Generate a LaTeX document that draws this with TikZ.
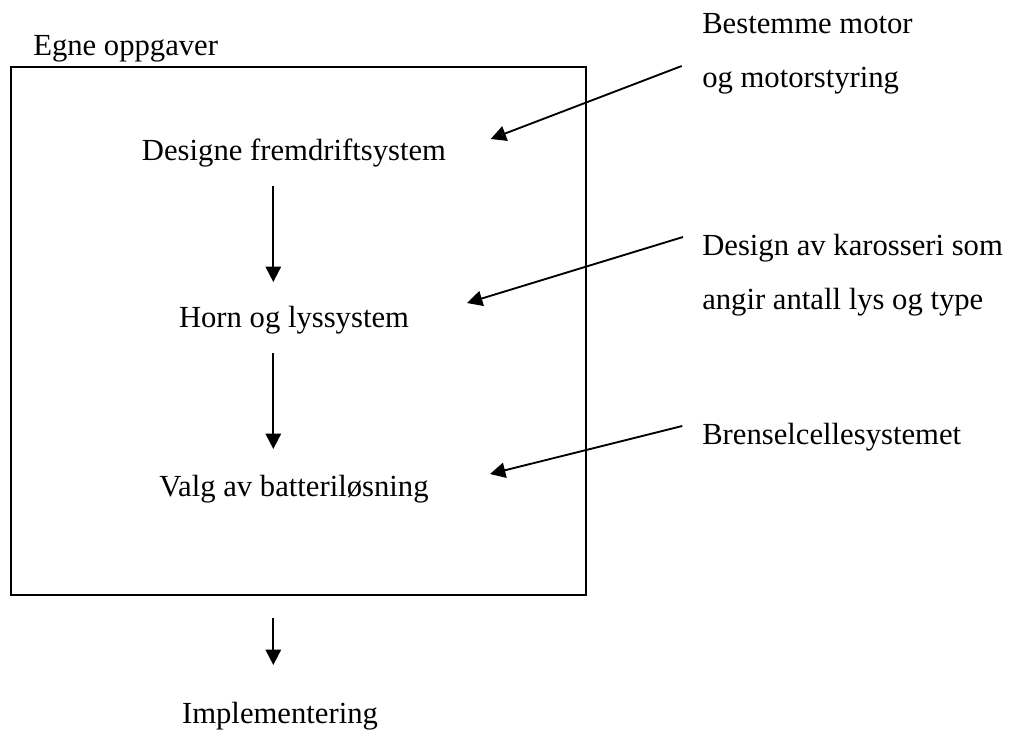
\documentclass[tikz,border=0pt]{standalone}
\usepackage{fontspec}
\setmainfont{Liberation Serif}
\usetikzlibrary{arrows.meta}
\begin{document}
\begin{tikzpicture}[x=0.75pt,y=-0.75pt,
  txt/.style={inner sep=0pt, font=\fontsize{23}{27}\selectfont},
  lbl/.style={txt, anchor=base west},
  clbl/.style={txt, anchor=base},
  frame/.style={line width=1.5pt},
  link/.style={line width=1.4pt, -{Triangle[length=11.5pt,width=11.5pt]}}]
\useasboundingbox (0,0) rectangle (1018,736);

% task box
\draw[frame] (10.7,67.3) rectangle (585.7,595);
\node[lbl] (egne) at (33,55) {Egne oppgaver};

% own tasks, top to bottom
\node[clbl] (fremdrift) at (294,160) {Designe fremdriftsystem};
\node[clbl] (horn) at (294,327) {Horn og lyssystem};
\node[clbl] (valg) at (294,496) {Valg av batteriløsning};
\node[clbl] (impl) at (280,723) {Implementering};

% inputs from other groups
\node[lbl] (motor1) at (702,33) {Bestemme motor};
\node[lbl] (motor2) at (702,87) {og motorstyring};
\node[lbl] (karo1) at (702,255) {Design av karosseri som};
\node[lbl] (karo2) at (702,309) {angir antall lys og type};
\node[lbl] (bren) at (702,444) {Brenselcellesystemet};

% arrow end points
\coordinate (a1s) at (273.3,186);
\coordinate (a1e) at (273.3,282);
\coordinate (a2s) at (273.3,353);
\coordinate (a2e) at (273.3,449);
\coordinate (a3s) at (273.3,618);
\coordinate (a3e) at (273.3,665);
\coordinate (m) at (681.7,66);
\coordinate (mt) at (490.7,139);
\coordinate (k) at (683,237);
\coordinate (kt) at (467,303);
\coordinate (b) at (682.3,426);
\coordinate (bt) at (490,474);

\draw[link] (a1s) -- (a1e);
\draw[link] (a2s) -- (a2e);
\draw[link] (a3s) -- (a3e);
\draw[link] (m) -- (mt);
\draw[link] (k) -- (kt);
\draw[link] (b) -- (bt);
\end{tikzpicture}
\end{document}
